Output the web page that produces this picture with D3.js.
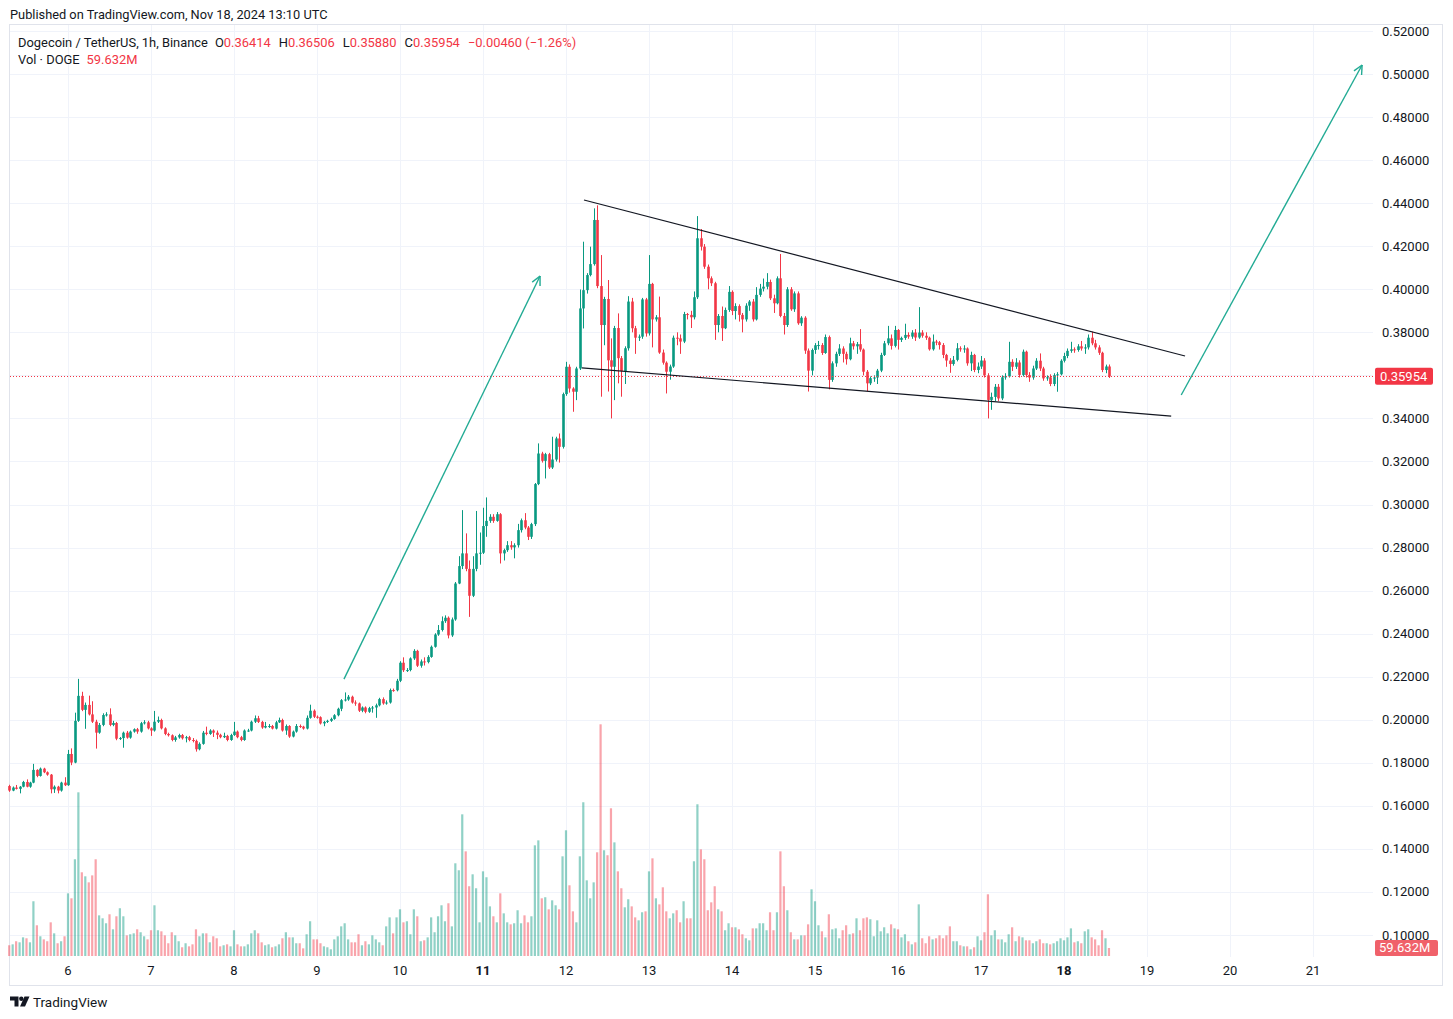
<!DOCTYPE html>
<html><head><meta charset="utf-8">
<script src="https://cdn.jsdelivr.net/npm/d3@7"></script>
<style>
html,body{margin:0;padding:0;background:#fff;}
svg{display:block;font-family:Roboto,"Noto Sans",sans-serif;}
</style></head><body>
<svg id="chart" width="1453" height="1019"></svg>
<script>
// ---- DATA (hourly DOGE/USDT, Binance, from Nov 5 2024 07:00 UTC) ----
const startHourUTC = Date.UTC(2024, 10, 5, 7);
const firstOpen = 0.1692;
const closes = [
.1671,.1685,.1679,.1689,.1711,.1689,.1708,.1767,.1739,.1773,
.1756,.1745,.1677,.1689,.1671,.1708,.1696,.1841,.1801,.1995,
.2111,.2046,.2069,.2025,.1991,.1940,.1976,.2022,.2025,.1976,
.1985,.1912,.1915,.1940,.1917,.1945,.1956,.1945,.1984,.1988,
.1960,.1950,.1991,.1999,.1960,.1934,.1928,.1906,.1918,.1929,
.1914,.1919,.1906,.1902,.1863,.1888,.1940,.1934,.1950,.1940,
.1930,.1919,.1925,.1906,.1929,.1945,.1919,.1906,.1950,.1950,
.1991,.2007,.1990,.1964,.1971,.1971,.1959,.1988,.1999,.1950,
.1971,.1922,.1945,.1971,.1968,.1959,.2009,.2042,.2014,.2012,
.1983,.1990,.1995,.2004,.2021,.2051,.2091,.2094,.2107,.2080,
.2076,.2042,.2057,.2037,.2054,.2057,.2067,.2096,.2076,.2080,
.2138,.2137,.2181,.2265,.2230,.2231,.2285,.2320,.2251,.2271,
.2268,.2292,.2339,.2396,.2417,.2458,.2474,.2392,.2466,.2633,
.2714,.2773,.2701,.2576,.2701,.2773,.2776,.2900,.2924,.2943,
.2924,.2955,.2773,.2788,.2811,.2801,.2811,.2881,.2927,.2893,
.2850,.2909,.3095,.3237,.3203,.3234,.3172,.3209,.3307,.3268,
.3513,.3640,.3539,.3524,.3632,.3911,.3996,.4066,.4117,.4322,
.4015,.3834,.3955,.3670,.3640,.3820,.3680,.3620,.3726,.3943,
.3819,.3775,.3780,.3953,.3795,.4025,.3860,.3870,.3706,.3659,
.3617,.3641,.3775,.3772,.3757,.3885,.3881,.3870,.3963,.4237,
.4198,.4105,.4051,.4028,.3834,.3876,.3819,.3904,.3988,.3899,
.3922,.3881,.3860,.3924,.3943,.3860,.3974,.4003,.4012,.4034,
.3958,.3935,.4051,.3876,.3834,.4000,.3907,.3981,.3842,.3868,
.3715,.3622,.3718,.3740,.3741,.3704,.3778,.3579,.3656,.3700,
.3725,.3700,.3675,.3749,.3735,.3745,.3720,.3617,.3563,.3587,
.3590,.3622,.3695,.3749,.3772,.3737,.3811,.3765,.3774,.3788,
.3780,.3799,.3776,.3799,.3784,.3775,.3721,.3757,.3754,.3741,
.3695,.3669,.3653,.3672,.3726,.3721,.3725,.3656,.3695,.3625,
.3641,.3669,.3600,.3486,.3500,.3547,.3493,.3591,.3595,.3663,
.3640,.3660,.3602,.3710,.3602,.3590,.3632,.3668,.3632,.3586,
.3591,.3560,.3601,.3605,.3668,.3690,.3714,.3721,.3718,.3735,
.3725,.3730,.3775,.3749,.3730,.3705,.3625,.36414,.35954];
const highs = [
.1698,.1690,.1697,.1692,.1716,.1723,.1712,.1795,.1770,.1778,
.1777,.1760,.1748,.1695,.1693,.1712,.1733,.1860,.1867,.2033,
.2190,.2130,.2080,.2112,.2086,.2000,.1985,.2030,.2035,.2053,
.1995,.1990,.1920,.1945,.1948,.1950,.1960,.1962,.1990,.1998,
.1995,.1965,.2041,.2015,.2005,.1965,.1940,.1932,.1925,.1935,
.1934,.1925,.1925,.1915,.1908,.1895,.1948,.1968,.1956,.1955,
.1950,.1935,.1940,.1930,.1935,.1990,.1950,.1925,.1955,.1958,
.1996,.2020,.2018,.1995,.1990,.1980,.1976,.1995,.2010,.2005,
.1978,.1975,.1950,.1980,.1978,.1972,.2020,.2070,.2048,.2020,
.2016,.1995,.2000,.2010,.2026,.2056,.2096,.2127,.2115,.2112,
.2090,.2080,.2062,.2062,.2060,.2064,.2075,.2102,.2104,.2090,
.2145,.2145,.2190,.2272,.2290,.2240,.2290,.2328,.2325,.2280,
.2290,.2300,.2345,.2402,.2440,.2480,.2485,.2480,.2475,.2640,
.2760,.2974,.2866,.2740,.2760,.2970,.2870,.2985,.3033,.2955,
.2955,.2965,.2960,.2795,.2830,.2830,.2820,.2910,.2935,.2960,
.2900,.2915,.3100,.3284,.3245,.3240,.3240,.3315,.3315,.3330,
.3520,.3663,.3651,.3545,.3640,.3999,.4221,.4075,.4198,.4376,
.4390,.4159,.3965,.4043,.3772,.3830,.3888,.3690,.3735,.3968,
.3960,.3830,.3790,.3960,.3960,.4159,.4030,.3880,.3966,.3720,
.3665,.3650,.3785,.3800,.3790,.3895,.3890,.3900,.3990,.4340,
.4280,.4210,.4115,.4060,.4035,.3885,.3920,.3915,.4015,.3995,
.3935,.3930,.3890,.3935,.3950,.3955,.4010,.4025,.4050,.4075,
.4045,.3975,.4060,.4164,.3890,.4010,.4010,.3990,.3990,.3875,
.3875,.3725,.3725,.3750,.3760,.3750,.3790,.3785,.3665,.3710,
.3745,.3735,.3710,.3775,.3760,.3755,.3815,.3725,.3625,.3595,
.3600,.3630,.3705,.3760,.3830,.3790,.3830,.3815,.3780,.3840,
.3800,.3810,.3815,.3917,.3810,.3800,.3780,.3790,.3765,.3760,
.3750,.3700,.3680,.3690,.3750,.3735,.3740,.3730,.3710,.3700,
.3660,.3690,.3680,.3610,.3520,.3560,.3560,.3600,.3610,.3756,
.3675,.3680,.3670,.3720,.3715,.3615,.3645,.3680,.3702,.3640,
.3600,.3605,.3610,.3615,.3675,.3705,.3725,.3756,.3730,.3745,
.3760,.3745,.3790,.3803,.3765,.3740,.3710,.3650,.36506];
const lows = [
.1665,.1668,.1676,.1658,.1686,.1686,.1684,.1705,.1733,.1736,
.1752,.1740,.1658,.1660,.1658,.1666,.1692,.1693,.1789,.1798,
.1990,.2040,.1958,.2020,.1985,.1866,.1935,.1970,.2015,.1970,
.1970,.1905,.1906,.1870,.1912,.1912,.1940,.1935,.1940,.1978,
.1955,.1925,.1945,.1985,.1955,.1928,.1922,.1900,.1898,.1912,
.1908,.1895,.1900,.1895,.1852,.1858,.1884,.1928,.1930,.1920,
.1910,.1914,.1915,.1900,.1902,.1925,.1914,.1900,.1902,.1944,
.1946,.1985,.1985,.1958,.1960,.1962,.1955,.1955,.1985,.1945,
.1930,.1916,.1918,.1940,.1962,.1954,.1955,.2005,.2008,.2005,
.1978,.1970,.1985,.1990,.2000,.2016,.2040,.2085,.2088,.2075,
.2065,.2036,.2035,.2030,.2032,.2033,.2009,.2062,.2070,.2070,
.2075,.2130,.2132,.2175,.2222,.2222,.2225,.2278,.2245,.2242,
.2252,.2262,.2288,.2335,.2390,.2410,.2450,.2378,.2385,.2460,
.2630,.2700,.2690,.2478,.2570,.2690,.2720,.2770,.2850,.2915,
.2915,.2920,.2726,.2740,.2780,.2790,.2750,.2800,.2870,.2885,
.2835,.2840,.2900,.3090,.3195,.3121,.3165,.3165,.3200,.3195,
.3260,.3505,.3520,.3431,.3485,.3625,.3818,.3980,.4060,.4110,
.4005,.3501,.3740,.3525,.3400,.3485,.3563,.3501,.3560,.3715,
.3800,.3700,.3760,.3770,.3780,.3785,.3730,.3850,.3700,.3650,
.3516,.3580,.3635,.3740,.3700,.3750,.3860,.3820,.3860,.3955,
.4180,.4095,.4000,.4015,.3765,.3800,.3760,.3815,.3895,.3880,
.3860,.3850,.3800,.3850,.3900,.3850,.3855,.3965,.3990,.4000,
.3950,.3890,.3930,.3870,.3790,.3825,.3900,.3895,.3835,.3830,
.3700,.3525,.3600,.3700,.3720,.3695,.3700,.3535,.3570,.3640,
.3690,.3660,.3650,.3670,.3720,.3700,.3710,.3600,.3527,.3555,
.3570,.3560,.3615,.3690,.3740,.3720,.3730,.3720,.3755,.3765,
.3770,.3770,.3760,.3770,.3775,.3765,.3715,.3715,.3740,.3720,
.3680,.3640,.3612,.3645,.3665,.3710,.3705,.3645,.3620,.3615,
.3610,.3630,.3590,.3400,.3440,.3480,.3480,.3485,.3580,.3590,
.3620,.3630,.3590,.3595,.3590,.3570,.3580,.3625,.3620,.3575,
.3575,.3550,.3550,.3524,.3600,.3660,.3680,.3705,.3705,.3710,
.3715,.3700,.3720,.3740,.3720,.3695,.3615,.3610,.35880];
// volume, millions of DOGE
const volumes = [
80,87,110,102,139,132,102,408,229,147,
124,110,251,169,95,110,147,467,430,721,
1220,624,594,549,601,721,303,281,244,311,
199,296,356,296,154,162,169,199,177,147,
124,192,378,192,184,154,95,177,154,110,
65,95,72,87,199,147,169,169,102,147,
132,72,80,87,72,192,87,72,72,87,
169,192,169,102,80,87,65,72,87,132,
177,139,139,95,95,57,162,259,124,124,
95,72,65,50,124,147,221,244,124,102,
102,162,80,110,87,154,124,102,80,221,
288,169,288,348,251,259,162,348,296,110,
117,139,288,177,296,378,259,393,221,691,
639,1056,780,520,609,505,251,631,587,370,
296,251,467,318,251,236,244,341,244,303,
251,296,825,862,430,438,348,415,378,348,
743,937,527,333,251,743,1146,564,430,549,
773,1727,788,751,1101,847,631,505,363,423,
370,288,266,326,333,631,728,430,385,512,
333,281,318,341,251,408,281,281,706,1131,
795,721,341,400,520,348,333,192,244,214,
214,199,162,132,117,206,206,244,244,192,
326,192,326,780,520,341,177,124,124,154,
154,236,497,408,229,184,139,311,199,206,
132,192,229,162,169,281,192,281,288,274,
147,266,184,214,169,236,206,199,139,162,
110,87,102,385,132,95,147,124,132,154,
132,154,221,110,110,80,72,72,50,65,
147,117,177,460,154,192,124,124,102,162,
214,110,147,139,117,117,95,110,124,95,
95,87,95,110,132,117,139,206,102,110,
95,184,199,139,124,80,192,132,59.632];
const dayTicks = [6,7,8,9,10,11,12,13,14,15,16,17,18,19,20,21];
const boldDays = [11,18];
const priceTicks = [0.10,0.12,0.14,0.16,0.18,0.20,0.22,0.24,0.26,0.28,0.30,0.32,0.34,0.36,0.38,0.40,0.42,0.44,0.46,0.48,0.50,0.52];
// drawings: [hours from start, price]
const trendUpper = [[166.2,0.4415],[340.0,0.3690]];
const trendLower = [[165.6,0.3635],[336.0,0.3411]];
const arrowOne = [[96.8,0.2189],[153.5,0.4062]];
const arrowTwo = [[338.9,0.3509],[391.2,0.5042]];
const lastPrice = 0.35954;
const lastVolumeLabel = "59.632M";

// ---- CHART ----
const svg = d3.select("#chart");
const UP = "#089981", DOWN = "#f23645";
const hour = 3600e3;
const tOf = h => new Date(startHourUTC + h * hour);
const FS = 13;

const x = d3.scaleUtc()
  .domain([new Date(Date.UTC(2024,10,6)), new Date(Date.UTC(2024,10,21))])
  .range([68, 1313]);
const y = d3.scaleLinear().domain([0.10, 0.52]).range([935, 31]);
const yVol = d3.scaleLinear().domain([0, 1800]).range([956, 956 - 1800 * 0.13416]);

const plotL = 10, plotR = 1373, plotT = 25, plotB = 957;

const candles = closes.map((c, i) => ({
  t: tOf(i),
  o: i === 0 ? firstOpen : closes[i-1],
  h: highs[i], l: lows[i], c: c, v: volumes[i]
}));

// header
svg.append("text").attr("x", 10).attr("y", 19).attr("font-size", 12.8).attr("fill", "#131722")
  .text("Published on TradingView.com, Nov 18, 2024 13:10 UTC");

// frame
svg.append("rect").attr("x", 9.5).attr("y", 24.5).attr("width", 1433).attr("height", 961)
  .attr("fill", "none").attr("stroke", "#e0e3eb");

// grid
const grid = svg.append("g");
grid.selectAll("line.h").data(priceTicks).join("line")
  .attr("x1", plotL).attr("x2", plotR)
  .attr("y1", d => Math.round(y(d)) + 0.5).attr("y2", d => Math.round(y(d)) + 0.5)
  .attr("stroke", "#f0f3fa");
grid.selectAll("line.v").data(dayTicks).join("line")
  .attr("x1", d => Math.round(x(new Date(Date.UTC(2024,10,d)))) + 0.5)
  .attr("x2", d => Math.round(x(new Date(Date.UTC(2024,10,d)))) + 0.5)
  .attr("y1", plotT).attr("y2", plotB)
  .attr("stroke", "#f0f3fa");

// volume
svg.append("g").selectAll("rect").data(candles).join("rect")
  .attr("x", d => x(d.t) - 1.1).attr("width", 2.2)
  .attr("y", d => yVol(d.v)).attr("height", d => yVol(0) - yVol(d.v))
  .attr("fill", d => d.c >= d.o ? "rgba(8,153,129,0.45)" : "rgba(242,54,69,0.45)");

// candles
const cg = svg.append("g");
cg.selectAll("line").data(candles).join("line")
  .attr("x1", d => Math.round(x(d.t)) + 0.5).attr("x2", d => Math.round(x(d.t)) + 0.5)
  .attr("y1", d => y(d.h)).attr("y2", d => y(d.l))
  .attr("stroke", d => d.c >= d.o ? UP : DOWN).attr("stroke-width", 1);
cg.selectAll("rect").data(candles).join("rect")
  .attr("x", d => Math.round(x(d.t)) - 0.8).attr("width", 2.6)
  .attr("y", d => y(Math.max(d.o, d.c)))
  .attr("height", d => Math.max(1, Math.abs(y(d.o) - y(d.c))))
  .attr("fill", d => d.c >= d.o ? UP : DOWN);

// last price dotted line
svg.append("line").attr("x1", plotL).attr("x2", plotR)
  .attr("y1", Math.round(y(lastPrice)) + 0.5).attr("y2", Math.round(y(lastPrice)) + 0.5)
  .attr("stroke", DOWN).attr("stroke-dasharray", "1,2");

// drawings
const pt = p => [x(tOf(p[0])), y(p[1])];
function seg(a, b, color, w) {
  const A = pt(a), B = pt(b);
  svg.append("line").attr("x1", A[0]).attr("y1", A[1]).attr("x2", B[0]).attr("y2", B[1])
    .attr("stroke", color).attr("stroke-width", w);
  return [A, B];
}
seg(trendUpper[0], trendUpper[1], "#131722", 1.2);
seg(trendLower[0], trendLower[1], "#131722", 1.2);
function arrow(a, b) {
  const [A, B] = seg(a, b, "#22ab94", 1.4);
  const ang = Math.atan2(B[1] - A[1], B[0] - A[0]);
  [-0.45, 0.45].forEach(da => {
    svg.append("line").attr("x1", B[0]).attr("y1", B[1])
      .attr("x2", B[0] - 10 * Math.cos(ang + da)).attr("y2", B[1] - 10 * Math.sin(ang + da))
      .attr("stroke", "#22ab94").attr("stroke-width", 1.4);
  });
}
arrow(arrowOne[0], arrowOne[1]);
arrow(arrowTwo[0], arrowTwo[1]);

// price axis
svg.append("g").selectAll("text").data(priceTicks).join("text")
  .attr("x", 1382).attr("y", d => y(d) + 4.5)
  .attr("font-size", FS).attr("fill", "#131722")
  .text(d => d3.format(".5f")(d));

// last price label
svg.append("rect").attr("x", 1375).attr("y", y(lastPrice) - 8.5).attr("width", 58).attr("height", 17)
  .attr("rx", 2).attr("fill", DOWN);
svg.append("text").attr("x", 1380).attr("y", y(lastPrice) + 4.5).attr("font-size", FS)
  .attr("fill", "#fff").text(d3.format(".5f")(lastPrice));

// volume label
svg.append("rect").attr("x", 1375).attr("y", yVol(volumes[volumes.length-1]) - 8).attr("width", 63).attr("height", 16)
  .attr("rx", 2).attr("fill", "#f0616a");
svg.append("text").attr("x", 1379).attr("y", yVol(volumes[volumes.length-1]) + 4.5).attr("font-size", FS)
  .attr("fill", "#fff").text(lastVolumeLabel);

// time axis
svg.append("g").selectAll("text").data(dayTicks).join("text")
  .attr("x", d => x(new Date(Date.UTC(2024,10,d)))).attr("y", 974.5)
  .attr("text-anchor", "middle").attr("font-size", FS).attr("fill", "#131722")
  .attr("font-weight", d => boldDays.includes(d) ? "bold" : "normal")
  .text(d => d);

// legend
const lg = svg.append("text").attr("x", 18).attr("y", 46.5).attr("font-size", 12.9).attr("fill", "#131722");
const last = candles[candles.length - 1];
const prev = candles[candles.length - 2];
lg.append("tspan").text("Dogecoin / TetherUS, 1h, Binance");
[["O", last.o], ["H", last.h], ["L", last.l], ["C", last.c]].forEach((p, k) => {
  lg.append("tspan").attr("dx", k === 0 ? 7 : 8).text(p[0]);
  lg.append("tspan").attr("fill", DOWN).text(d3.format(".5f")(p[1]));
});
const chg = last.c - prev.c;
lg.append("tspan").attr("dx", 8).attr("fill", DOWN)
  .text("\u2212" + d3.format(".5f")(Math.abs(chg)) + " (\u2212" + d3.format(".2f")(Math.abs(chg / prev.c * 100)) + "%)");
const lg2 = svg.append("text").attr("x", 18).attr("y", 63.5).attr("font-size", 12.9).attr("fill", "#131722");
lg2.append("tspan").text("Vol \u00b7 DOGE");
lg2.append("tspan").attr("dx", 7).attr("fill", DOWN).text(lastVolumeLabel);

// footer logo
const logo = svg.append("g").attr("fill", "#131722");
logo.append("path").attr("d", "M10,996.5 h8.5 v10 h-4 v-6 h-4.5 z");
logo.append("circle").attr("cx", 21.3).attr("cy", 998.8).attr("r", 2.2);
logo.append("path").attr("d", "M24.5,996.5 h5 l-4.5,10 h-5 z");
svg.append("text").attr("x", 33).attr("y", 1006.5).attr("font-size", 13.5).attr("fill", "#131722").text("TradingView");
</script>
</body></html>
